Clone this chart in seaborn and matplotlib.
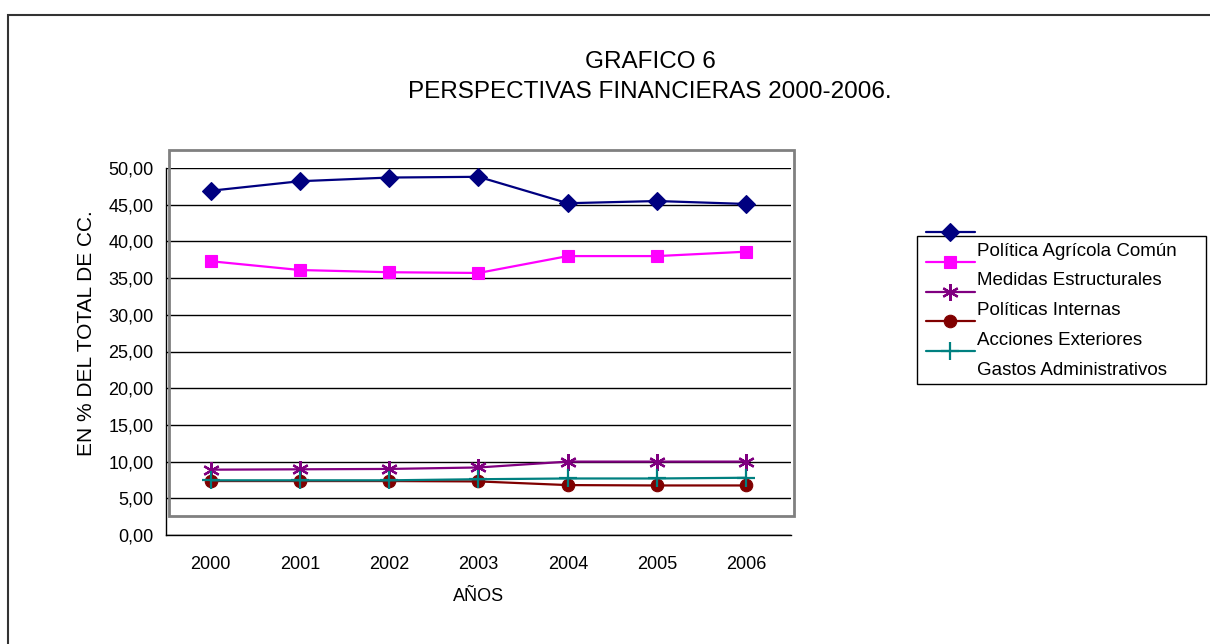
# Gráfico 6 - Perspectivas financieras 2000-2006

import numpy as np
import pandas as pd
import matplotlib
matplotlib.use("Agg")
import matplotlib.pyplot as plt
from matplotlib.lines import Line2D
from matplotlib.patches import Rectangle
from matplotlib.ticker import FuncFormatter
import seaborn as sns

sns.set_style("white")
plt.rcParams['font.family'] = ['Liberation Sans', 'DejaVu Sans']
plt.rcParams['text.color'] = 'black'
plt.rcParams['axes.labelcolor'] = 'black'
plt.rcParams['xtick.color'] = 'black'
plt.rcParams['ytick.color'] = 'black'

# -----------------------------
# Datos (en % del total de CC.)
# -----------------------------
years = ["2000", "2001", "2002", "2003", "2004", "2005", "2006"]
pac = [46.9, 48.2, 48.7, 48.8, 45.2, 45.5, 45.1]
estructurales = [37.3, 36.1, 35.8, 35.7, 38.0, 38.0, 38.6]
internas = [8.9, 8.95, 9.0, 9.2, 10.0, 10.0, 10.0]
exteriores = [7.35, 7.35, 7.35, 7.3, 6.8, 6.75, 6.75]
administrativos = [7.45, 7.45, 7.45, 7.6, 7.7, 7.7, 7.8]

series_names = ["Política Agrícola Común", "Medidas Estructurales",
                "Políticas Internas", "Acciones Exteriores",
                "Gastos Administrativos"]
series_values = [pac, estructurales, internas, exteriores, administrativos]
# texto de la leyenda tal y como sale (desplazado respecto a los símbolos)
legend_labels = ["Política Agrícola Común", "Medidas Estructurales",
                 "Políticas Internas", "Acciones Exteriores",
                 "Gastos Administrativos"]

colors = dict(zip(series_names, ["#000080", "#FF00FF", "#800080", "#800000", "#008080"]))
markers = dict(zip(series_names, ["D", "s", (6, 2, 0), "o", "+"]))
msizes = dict(zip(series_names, [9, 9, 12, 9, 13]))
medges = dict(zip(series_names, [0.8, 0.8, 1.6, 0.8, 1.6]))

df = pd.DataFrame({
    "pos": np.tile(np.arange(len(years)), len(series_names)),
    "valor": np.concatenate(series_values),
    "serie": np.repeat(series_names, len(years)),
})

# -----------------------------
# Figura
# -----------------------------
W, H = 1210, 644
fig = plt.figure(figsize=(W / 100, H / 100), dpi=100)
fx = lambda px: px / W
fy = lambda py: 1 - py / H

ax = fig.add_axes([fx(166), fy(535), (791 - 166) / W, (535 - 168) / H])

for name in series_names:
    sns.lineplot(data=df[df["serie"] == name], x="pos", y="valor",
                 color=colors[name], marker=markers[name], markersize=msizes[name],
                 mfc=colors[name], mec=colors[name], mew=medges[name],
                 lw=1.6, ax=ax)

ax.set_xlim(-0.5, len(years) - 0.5)
ax.set_ylim(0, 50)
ax.set_yticks(np.arange(0, 51, 5))
ax.yaxis.set_major_formatter(FuncFormatter(lambda v, p: f"{v:.2f}".replace(".", ",")))
ax.grid(axis="y", color="black", lw=1)
ax.set_axisbelow(True)

ax.set_xticks(np.arange(-0.5, len(years)), labels=[])
ax.set_xticks(np.arange(len(years)), labels=years, minor=True)
ax.tick_params(axis="x", which="major", length=5, width=1, direction="out", color="black")
ax.tick_params(axis="x", which="minor", length=0, pad=15, labelsize=13)
ax.tick_params(axis="y", length=5, width=1, direction="out", color="black",
               pad=4, labelsize=13)

for s in ("top", "right"):
    ax.spines[s].set_visible(False)
for s in ("left", "bottom"):
    ax.spines[s].set_color("black")
    ax.spines[s].set_linewidth(1)

ax.set_xlabel("AÑOS", fontsize=13, labelpad=11)
ax.set_ylabel("EN % DEL TOTAL DE CC.", fontsize=15)
ax.yaxis.set_label_coords((96 - 166) / 625, (535 - 333) / 367)

# marco gris del área de trazado y borde exterior
fig.add_artist(Rectangle((fx(169), fy(516)), (794 - 169) / W, (516 - 150) / H,
                         transform=fig.transFigure, fill=False, ec="#808080", lw=2))
fig.add_artist(Rectangle((fx(8), fy(660)), (1230 - 8) / W, (660 - 15) / H,
                         transform=fig.transFigure, fill=False, ec="#333333", lw=1.5))

# títulos
fig.text(fx(650), fy(62), "GRAFICO 6", ha="center", va="center", fontsize=17.5)
fig.text(fx(650), fy(92), "PERSPECTIVAS FINANCIERAS 2000-2006.", ha="center",
         va="center", fontsize=17.5)

# leyenda (como en el original, con las etiquetas desplazadas)
fig.add_artist(Rectangle((fx(917), fy(384)), (1206 - 917) / W, (384 - 236) / H,
                         transform=fig.transFigure, fill=False, ec="black", lw=1))
for i, name in enumerate(series_names):
    y = 232 + 29.8 * i
    fig.add_artist(Line2D([fx(926), fx(950), fx(975)], [fy(y)] * 3,
                          transform=fig.transFigure, color=colors[name], lw=1.6,
                          marker=markers[name], markevery=[1],
                          markersize=msizes[name], mfc=colors[name], mec=colors[name],
                          mew=medges[name]))
for i, lab in enumerate(legend_labels):
    fig.text(fx(977), fy(251 + 29.8 * i), lab, ha="left", va="center", fontsize=13.5)

fig.savefig("out.png", dpi=100)
